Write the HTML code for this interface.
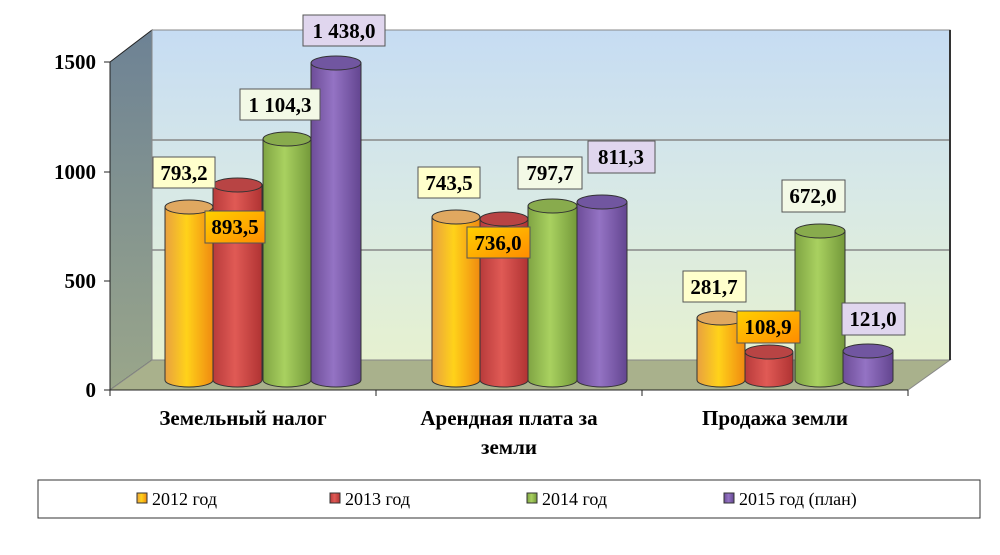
<!DOCTYPE html>
<html><head><meta charset="utf-8"><style>
body{margin:0;background:#fff;width:1000px;height:550px;overflow:hidden}
svg text{font-family:"Liberation Serif",serif;font-weight:bold}
</style></head><body>
<svg width="1000" height="550" viewBox="0 0 1000 550">
<defs>
<linearGradient id="wall" x1="0" y1="0" x2="0" y2="1"><stop offset="0" stop-color="#c6dcf3"/><stop offset="0.5" stop-color="#d8e9e6"/><stop offset="1" stop-color="#e6f1d0"/></linearGradient>
<linearGradient id="lw" x1="0" y1="0" x2="0" y2="1"><stop offset="0" stop-color="#6d8295"/><stop offset="1" stop-color="#9aa68a"/></linearGradient>
<linearGradient id="gy" x1="0" x2="1"><stop offset="0" stop-color="#e8a040"/><stop offset="0.45" stop-color="#ffd21a"/><stop offset="1" stop-color="#f08a10"/></linearGradient>
<linearGradient id="gr" x1="0" x2="1"><stop offset="0" stop-color="#b83b3b"/><stop offset="0.45" stop-color="#e05a55"/><stop offset="1" stop-color="#b03333"/></linearGradient>
<linearGradient id="gg" x1="0" x2="1"><stop offset="0" stop-color="#7fa443"/><stop offset="0.45" stop-color="#a9d160"/><stop offset="1" stop-color="#74993a"/></linearGradient>
<linearGradient id="gp" x1="0" x2="1"><stop offset="0" stop-color="#6d4d98"/><stop offset="0.45" stop-color="#9473c4"/><stop offset="1" stop-color="#634590"/></linearGradient>
<linearGradient id="lo" x1="0" y1="0" x2="1" y2="1"><stop offset="0" stop-color="#ffd000"/><stop offset="1" stop-color="#ff8c00"/></linearGradient>
</defs>
<polygon points="110,62 152,30 152,360 110,390" fill="url(#lw)" stroke="#222" stroke-width="1"/>
<rect x="152" y="30" width="798" height="330" fill="url(#wall)" stroke="#888"/>
<g stroke="#888" stroke-width="1.5"><line x1="152" y1="140" x2="950" y2="140"/><line x1="152" y1="250" x2="950" y2="250"/></g>
<polygon points="110,390 152,360 950,360 908,390" fill="#a9b18c" stroke="#888"/>
<line x1="950" y1="30" x2="950" y2="360" stroke="#333" stroke-width="2"/>
<g stroke="#222" stroke-width="1"><line x1="110" y1="62" x2="110" y2="390"/><line x1="110" y1="390" x2="908" y2="390"/>
<line x1="104" y1="62" x2="110" y2="62"/><line x1="104" y1="172" x2="110" y2="172"/><line x1="104" y1="281" x2="110" y2="281"/><line x1="104" y1="390" x2="110" y2="390"/>
<line x1="110" y1="390" x2="110" y2="396"/><line x1="376" y1="390" x2="376" y2="396"/><line x1="642" y1="390" x2="642" y2="396"/><line x1="908" y1="390" x2="908" y2="396"/></g>
<g font-size="21" text-anchor="end"><text x="96" y="69">1500</text><text x="96" y="179">1000</text><text x="96" y="288">500</text><text x="96" y="397">0</text></g>
<g stroke="#333" stroke-width="1">
<path d="M165,207 v173 a24,7 0 0 0 48,0 v-173z" fill="url(#gy)"/><ellipse cx="189" cy="207" rx="24" ry="7" fill="#e0a860"/>
<path d="M213,185 v195 a24.5,7 0 0 0 49,0 v-195z" fill="url(#gr)"/><ellipse cx="237.5" cy="185" rx="24.5" ry="7" fill="#b84444"/>
<path d="M263,139 v241 a24,7 0 0 0 48,0 v-241z" fill="url(#gg)"/><ellipse cx="287" cy="139" rx="24" ry="7" fill="#88ab4d"/>
<path d="M311,63 v317 a25,7 0 0 0 50,0 v-317z" fill="url(#gp)"/><ellipse cx="336" cy="63" rx="25" ry="7" fill="#7156a0"/>
<path d="M432,217 v163 a24,7 0 0 0 48,0 v-163z" fill="url(#gy)"/><ellipse cx="456" cy="217" rx="24" ry="7" fill="#e0a860"/>
<path d="M480,219 v161 a24,7 0 0 0 48,0 v-161z" fill="url(#gr)"/><ellipse cx="504" cy="219" rx="24" ry="7" fill="#b84444"/>
<path d="M528,206 v174 a24.5,7 0 0 0 49,0 v-174z" fill="url(#gg)"/><ellipse cx="552.5" cy="206" rx="24.5" ry="7" fill="#88ab4d"/>
<path d="M577,202 v178 a25,7 0 0 0 50,0 v-178z" fill="url(#gp)"/><ellipse cx="602" cy="202" rx="25" ry="7" fill="#7156a0"/>
<path d="M697,318 v62 a24,7 0 0 0 48,0 v-62z" fill="url(#gy)"/><ellipse cx="721" cy="318" rx="24" ry="7" fill="#e0a860"/>
<path d="M745,352 v28 a24,7 0 0 0 48,0 v-28z" fill="url(#gr)"/><ellipse cx="769" cy="352" rx="24" ry="7" fill="#b84444"/>
<path d="M795,231 v149 a25,7 0 0 0 50,0 v-149z" fill="url(#gg)"/><ellipse cx="820" cy="231" rx="25" ry="7" fill="#88ab4d"/>
<path d="M843,351 v29 a25,7 0 0 0 50,0 v-29z" fill="url(#gp)"/><ellipse cx="868" cy="351" rx="25" ry="7" fill="#7156a0"/>
</g>
<g stroke="#555" stroke-width="1">
<rect x="153" y="157" width="62" height="31" fill="#ffffcc"/><rect x="205" y="211" width="60" height="32" fill="url(#lo)"/>
<rect x="240" y="89" width="80" height="31" fill="#f3f9e6"/><rect x="303" y="15" width="82" height="31" fill="#e0d6ee"/>
<rect x="418" y="167" width="62" height="31" fill="#ffffcc"/><rect x="467" y="227" width="63" height="31" fill="url(#lo)"/>
<rect x="518" y="157" width="64" height="32" fill="#f3f9e6"/><rect x="588" y="141" width="67" height="32" fill="#e0d6ee"/>
<rect x="683" y="271" width="63" height="31" fill="#ffffcc"/><rect x="737" y="311" width="63" height="32" fill="url(#lo)"/>
<rect x="782" y="180" width="63" height="32" fill="#f3f9e6"/><rect x="842" y="303" width="63" height="32" fill="#e0d6ee"/>
</g>
<g font-size="21" text-anchor="middle" fill="#000">
<text x="184" y="180">793,2</text><text x="235" y="234">893,5</text><text x="280" y="112">1 104,3</text><text x="344" y="38">1 438,0</text>
<text x="449" y="190">743,5</text><text x="498" y="250">736,0</text><text x="550" y="180">797,7</text><text x="621" y="164">811,3</text>
<text x="714" y="294">281,7</text><text x="768" y="334">108,9</text><text x="813" y="203">672,0</text><text x="873" y="326">121,0</text>
</g>
<g font-size="21" text-anchor="middle">
<text x="243" y="425">Земельный налог</text>
<text x="509" y="425">Арендная плата за</text><text x="509" y="454">земли</text>
<text x="775" y="425">Продажа земли</text>
</g>
<rect x="38" y="480" width="942" height="38" fill="#fff" stroke="#333"/>
<g stroke="#333" stroke-width="1">
<rect x="137" y="493" width="10" height="10" fill="url(#gy)"/><rect x="330" y="493" width="10" height="10" fill="url(#gr)"/>
<rect x="527" y="493" width="10" height="10" fill="url(#gg)"/><rect x="724" y="493" width="10" height="10" fill="url(#gp)"/>
</g>
<g font-size="18">
<text x="152" y="505" style="font-weight:normal">2012 год</text><text x="345" y="505" style="font-weight:normal">2013 год</text>
<text x="542" y="505" style="font-weight:normal">2014 год</text><text x="739" y="505" style="font-weight:normal">2015 год (план)</text>
</g>
</svg>
</body></html>
